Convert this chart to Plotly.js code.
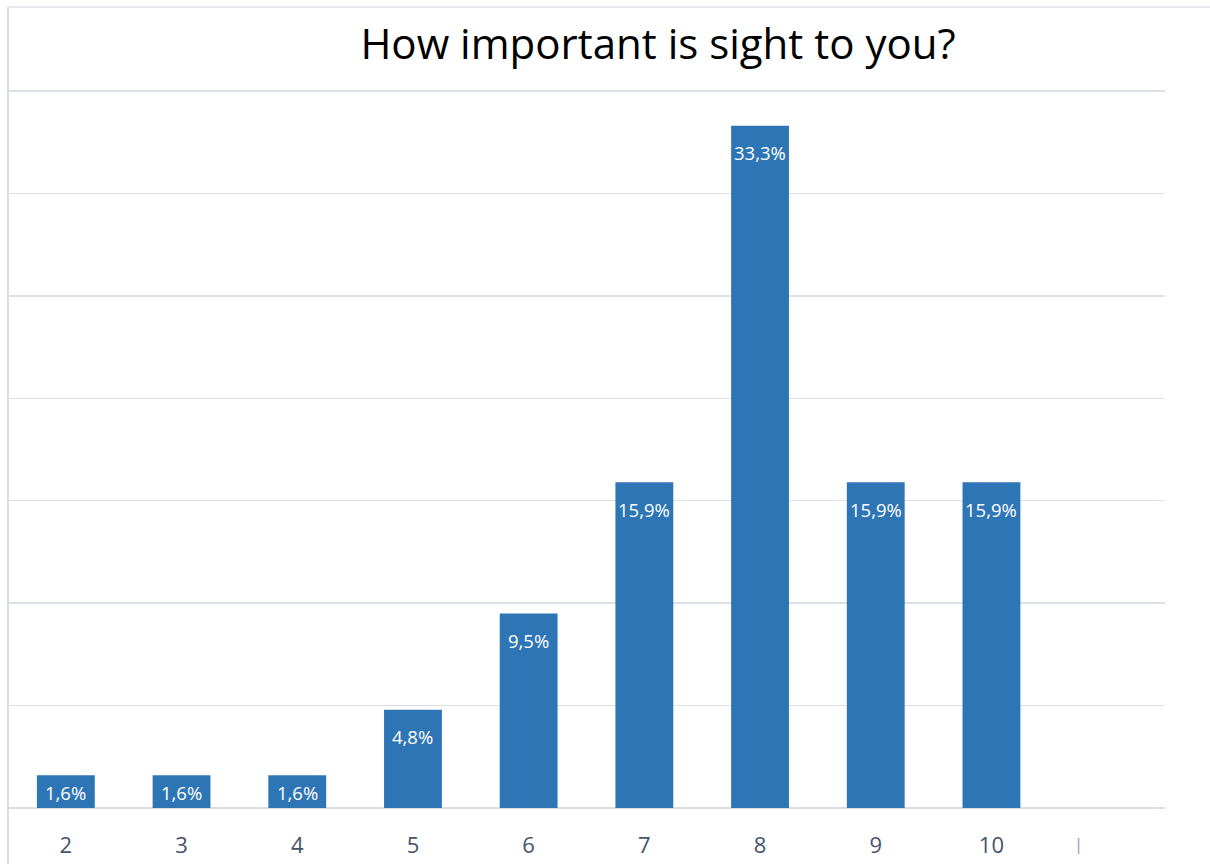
<!DOCTYPE html>
<html>
<head>
<meta charset="utf-8">
<script src="https://cdn.plot.ly/plotly-3.0.1.min.js"></script>
<style>
  html, body { margin: 0; padding: 0; background: #ffffff; }
  #chart { width: 1210px; height: 864px; }
</style>
</head>
<body>
<div id="chart"></div>
<script>
// Survey answers: rating given to the importance of sight
const ratings = [2, 3, 4, 5, 6, 7, 8, 9, 10];
const shares = [1.6, 1.6, 1.6, 4.8, 9.5, 15.9, 33.3, 15.9, 15.9];
const tickLabels = ['2', '3', '4', '5', '6', '7', '8', '9', '10'];

const W = 1210, H = 864;
const margin = { l: 8, r: 45, t: 90, b: 56 };
const yMax = 35.05;
const plotH = H - margin.t - margin.b;
const pxPerUnit = plotH / yMax;

const fmt = v => v.toFixed(1).replace('.', ',') + '%';

// Value labels sit inside the top of each bar, centred in short bars
const labelAnnotations = ratings.map((r, i) => {
  const barPx = shares[i] * pxPerUnit;
  const drop = Math.min(27, barPx / 2 + 1);
  return {
    x: r, y: shares[i], xref: 'x', yref: 'y',
    text: fmt(shares[i]), showarrow: false,
    yanchor: 'middle', yshift: -drop,
    font: { family: 'Open Sans, sans-serif', size: 18.5, color: '#ffffff' }
  };
});

const trace = {
  type: 'bar',
  x: ratings,
  y: shares,
  marker: { color: '#2E75B6', line: { width: 0 } },
  hoverinfo: 'skip'
};

const toPaperX = px => (px - margin.l) / (W - margin.l - margin.r);
const toPaperY = py => (H - margin.b - py) / plotH;

const layout = {
  width: W, height: H,
  margin: margin,
  paper_bgcolor: '#ffffff',
  plot_bgcolor: '#ffffff',
  showlegend: false,
  bargap: 0.5,
  title: {
    text: 'How important is sight to you?',
    font: { family: 'Open Sans, sans-serif', size: 42, color: '#000000' },
    xref: 'container', x: 658 / W, xanchor: 'center',
    yref: 'container', y: 1 - 44 / H, yanchor: 'middle'
  },
  xaxis: {
    range: [1.5, 11.5],
    tickvals: ratings,
    ticktext: tickLabels,
    showgrid: false,
    zeroline: false,
    showline: false,
    ticks: '',
    ticklabelstandoff: 22,
    tickfont: { family: 'Open Sans, sans-serif', size: 22, color: '#44546A' },
    fixedrange: true
  },
  yaxis: {
    range: [0, yMax],
    tick0: 0,
    dtick: 5,
    showticklabels: false,
    showgrid: true,
    gridcolor: '#DCE0E8',
    gridwidth: 1.5,
    zeroline: true,
    zerolinecolor: '#D9DDE5',
    zerolinewidth: 2,
    showline: false,
    fixedrange: true
  },
  shapes: [
    // chart frame: left and top edges
    { type: 'line', xref: 'paper', yref: 'paper',
      x0: toPaperX(8), x1: toPaperX(8), y0: toPaperY(7), y1: toPaperY(H),
      line: { color: '#D9DCE2', width: 2 } },
    { type: 'line', xref: 'paper', yref: 'paper',
      x0: toPaperX(8), x1: toPaperX(W), y0: toPaperY(7), y1: toPaperY(7),
      line: { color: '#DDE0E6', width: 1.5 } }
  ],
  annotations: labelAnnotations.concat([
    { x: toPaperX(1078), y: toPaperY(845), xref: 'paper', yref: 'paper',
      text: '|', showarrow: false, xanchor: 'center', yanchor: 'middle',
      font: { family: 'DejaVu Sans, sans-serif', size: 15, color: '#9aa3b2' } }
  ])
};

Plotly.newPlot('chart', [trace], layout, { displayModeBar: false, staticPlot: true });
</script>
</body>
</html>
